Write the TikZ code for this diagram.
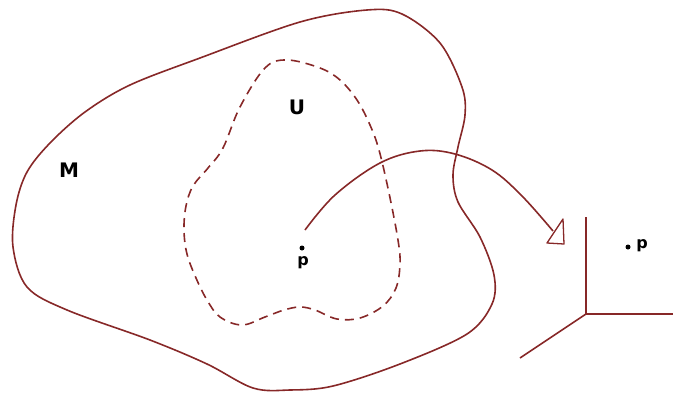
\documentclass[tikz,border=0pt]{standalone}
\usepackage{fontspec}
\setmainfont{DejaVu Sans}
\begin{document}
\begin{tikzpicture}[x=1pt,y=-1pt,
  curve/.style={draw={rgb,255:red,135;green,40;blue,40},line width=1.6pt,line join=round},
  dashcurve/.style={curve,dash pattern=on 9pt off 6pt},
  lbl/.style={font=\fontsize{20}{20}\bfseries\selectfont,inner sep=0pt},
  plbl/.style={font=\fontsize{16}{16}\bfseries\selectfont,inner sep=0pt},
  dotnode/.style={circle,fill=black,inner sep=0pt,minimum size=5pt}]
\useasboundingbox (0,0) rectangle (673,397);
% manifold M
\draw[curve] plot[smooth cycle,tension=0.55] coordinates{
 (16,205) (27,172) (50,143) (85,112) (130,85) (200,58) (300,22) (367,10) (402,14)
 (440,43) (462,87) (465,115) (458,147) (453,175) (458,202) (480,237)
 (494,275) (492,304) (467,334) (400,364) (333,386) (290,390) (253,388)
 (207,364) (150,340) (67,310) (27,287) (13,247)};
% open set U
\draw[dashcurve] plot[smooth cycle,tension=0.6] coordinates{
 (287,60) (320,68) (340,80) (357,100) (370,125) (379,150) (389,193) (398,240)
 (400,264) (396,288) (383,306) (360,318) (337,319) (315,310) (300,307)
 (284,310) (265,317) (242,325) (220,317) (207,300) (196,278) (187,254)
 (184,230) (186,206) (193,186) (208,168) (223,148) (240,107) (265,68)};
% labels
\node[lbl] (M) at (69,170) {M};
\node[lbl] (U) at (297,107) {U};
\node[dotnode] (pdot) at (302,248) {};
\node[plbl] (p) at (303,263) {p};
\node[dotnode] (qdot) at (628,247) {};
\node[plbl] (q) at (642,246) {p};
% arrow
\coordinate (astart) at (305,230);
\coordinate (aend) at (553,231);
\draw[curve] plot[smooth,tension=0.6] coordinates{
 (astart) (335,195) (380,163) (420,151) (455,154) (492,170) (522,196) (aend)};
\coordinate (t1) at (563,219);
\coordinate (t2) at (547,243);
\coordinate (t3) at (564,244);
\draw[curve,line width=1.3pt] (t1) -- (t2) -- (t3) -- cycle;
% chart axes
\coordinate (o) at (586,314);
\coordinate (ytop) at (586,217);
\coordinate (xend) at (673,314);
\coordinate (dend) at (520,358);
\draw[curve] (ytop) -- (o) -- (xend);
\draw[curve] (o) -- (dend);
\end{tikzpicture}
\end{document}
